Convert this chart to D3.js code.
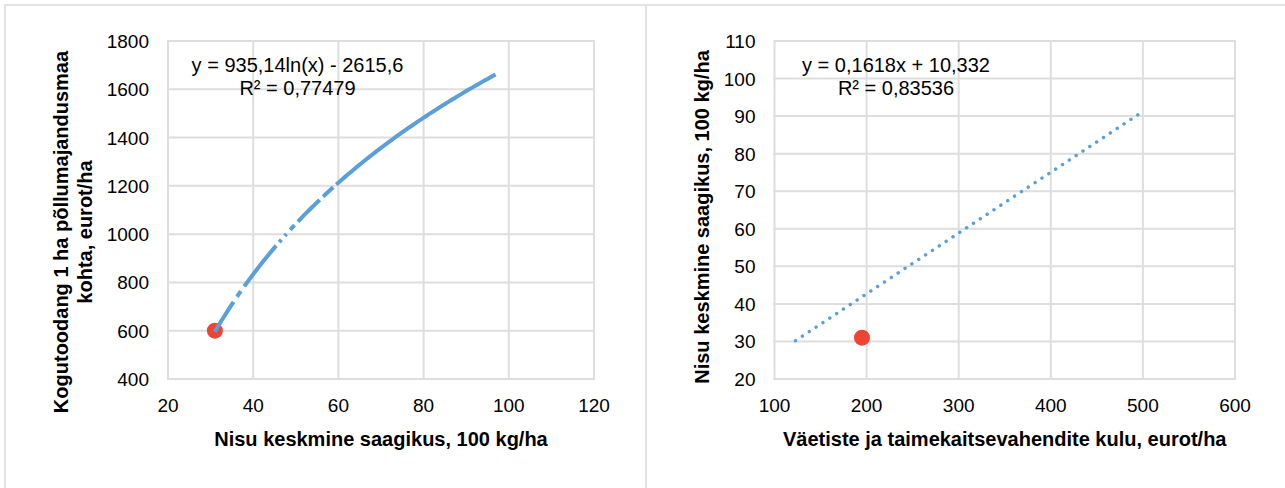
<!DOCTYPE html>
<html>
<head>
<meta charset="utf-8">
<script src="https://cdn.jsdelivr.net/npm/d3@7"></script>
<style>
  html, body { margin: 0; padding: 0; background: #fff; }
  svg { display: block; font-family: "Liberation Sans", Arial, sans-serif; }
</style>
</head>
<body>
<svg id="chart" width="1285" height="488"></svg>
<script>
// ---------- data ----------
// Left chart: yield (x) vs. gross output per ha (y)
const leftXTicks = [20, 40, 60, 80, 100, 120];
const leftYTicks = [400, 600, 800, 1000, 1200, 1400, 1600, 1800];
const leftPointX = [31];
const leftPointY = [600];
const leftTrendCoef = [935.14, -2615.6];            // y = a*ln(x) + b
const leftTrendSegments = [                          // visible stretches of the trend line (x ranges)
  [31, 35.4], [36.2, 37.1], [37.9, 45.4], [46.1, 46.6], [47.4, 47.8],
  [48.7, 49.7], [50.5, 55.6], [56.4, 58.8], [59.5, 96.9]
];
const leftEquation = ["y = 935,14ln(x) - 2615,6", "R² = 0,77479"];
const leftXTitle = "Nisu keskmine saagikus, 100 kg/ha";
const leftYTitle = ["Kogutoodang 1 ha põllumajandusmaa", "kohta, eurot/ha"];

// Right chart: fertiliser & plant protection cost (x) vs. yield (y)
const rightXTicks = [100, 200, 300, 400, 500, 600];
const rightYTicks = [20, 30, 40, 50, 60, 70, 80, 90, 100, 110];
const rightPointX = [195];
const rightPointY = [31];
const rightTrendCoef = [0.1618, 10.332];             // y = a*x + b
const rightTrendRange = [122.8, 495.3];
const rightEquation = ["y = 0,1618x + 10,332", "R² = 0,83536"];
const rightXTitle = "Väetiste ja taimekaitsevahendite kulu, eurot/ha";
const rightYTitle = ["Nisu keskmine saagikus, 100 kg/ha"];

// ---------- styles ----------
const gridColor = "#dedede";
const lineBlue = "#5b9fd8";
const dotRed = "#ef4432";
const borderColor = "#e3e3e3";

const svg = d3.select("#chart");

// panel borders
svg.append("line").attr("x1", 4).attr("x2", 1285).attr("y1", 5).attr("y2", 5)
  .attr("stroke", borderColor).attr("stroke-width", 2);
svg.append("line").attr("x1", 5).attr("x2", 5).attr("y1", 4).attr("y2", 488)
  .attr("stroke", borderColor).attr("stroke-width", 2);
svg.append("line").attr("x1", 646).attr("x2", 646).attr("y1", 4).attr("y2", 488)
  .attr("stroke", borderColor).attr("stroke-width", 2);

function drawPanel(cfg) {
  const x = d3.scaleLinear().domain(cfg.xDomain).range([cfg.left, cfg.right]);
  const y = d3.scaleLinear().domain(cfg.yDomain).range([cfg.bottom, cfg.top]);
  const g = svg.append("g");

  // gridlines (vertical)
  g.append("g").selectAll("line").data(cfg.xTicks).join("line")
    .attr("x1", d => x(d)).attr("x2", d => x(d))
    .attr("y1", cfg.top).attr("y2", cfg.bottom)
    .attr("stroke", gridColor).attr("stroke-width", 2);
  // gridlines (horizontal)
  g.append("g").selectAll("line").data(cfg.yTicks).join("line")
    .attr("x1", cfg.left - 1).attr("x2", cfg.right + 1)
    .attr("y1", d => y(d)).attr("y2", d => y(d))
    .attr("stroke", gridColor).attr("stroke-width", 2);

  // tick labels
  g.append("g").selectAll("text").data(cfg.xTicks).join("text")
    .attr("x", d => x(d)).attr("y", 412)
    .attr("text-anchor", "middle").attr("font-size", 19).attr("fill", "#000")
    .text(d => d);
  g.append("g").selectAll("text").data(cfg.yTicks).join("text")
    .attr("x", cfg.left - 19).attr("y", d => y(d) + 7)
    .attr("text-anchor", "end").attr("font-size", 19).attr("fill", "#000")
    .text(d => d);

  // axis titles
  g.append("text")
    .attr("x", (cfg.left + cfg.right) / 2).attr("y", 446)
    .attr("text-anchor", "middle").attr("font-size", 20).attr("font-weight", "bold")
    .text(cfg.xTitle);
  cfg.yTitle.forEach((t, i) => {
    g.append("text")
      .attr("transform", `translate(${cfg.yTitleX + i * 24},${cfg.yTitleCY}) rotate(-90)`)
      .attr("text-anchor", "middle").attr("font-size", 20).attr("font-weight", "bold")
      .text(t);
  });

  // trend line (under the point)
  if (cfg.trendUnder) cfg.trendUnder(g, x, y);

  // highlighted point
  g.append("g").selectAll("circle").data(cfg.pointX.map((v, i) => [v, cfg.pointY[i]])).join("circle")
    .attr("cx", d => x(d[0])).attr("cy", d => y(d[1])).attr("r", 8)
    .attr("fill", dotRed);

  // trend line (over the point)
  if (cfg.trendOver) cfg.trendOver(g, x, y);

  // equation label
  cfg.equation.forEach((t, i) => {
    g.append("text")
      .attr("x", cfg.eqX).attr("y", 72 + i * 22.5)
      .attr("text-anchor", "middle").attr("font-size", 20).attr("fill", "#000")
      .text(t);
  });
}

// Left panel
drawPanel({
  xDomain: [20, 120], yDomain: [400, 1800],
  left: 168, right: 594, top: 41, bottom: 379,
  xTicks: leftXTicks, yTicks: leftYTicks,
  xTitle: leftXTitle, yTitle: leftYTitle, yTitleX: 68, yTitleCY: 232,
  pointX: leftPointX, pointY: leftPointY,
  equation: leftEquation, eqX: 297.5,
  trendOver: (g, x, y) => {
    const [a, b] = leftTrendCoef;
    const line = d3.line().x(d => x(d)).y(d => y(a * Math.log(d) + b));
    leftTrendSegments.forEach(([x0, x1]) => {
      const n = Math.max(2, Math.ceil((x1 - x0) * 2));
      const xs = d3.range(n + 1).map(i => x0 + (x1 - x0) * i / n);
      g.append("path").attr("d", line(xs))
        .attr("fill", "none").attr("stroke", lineBlue).attr("stroke-width", 4)
        .attr("stroke-linecap", "butt");
    });
  }
});

// Right panel
drawPanel({
  xDomain: [100, 600], yDomain: [20, 110],
  left: 774.5, right: 1235, top: 41, bottom: 379,
  xTicks: rightXTicks, yTicks: rightYTicks,
  xTitle: rightXTitle, yTitle: rightYTitle, yTitleX: 709, yTitleCY: 217,
  pointX: rightPointX, pointY: rightPointY,
  equation: rightEquation, eqX: 896,
  trendUnder: (g, x, y) => {
    const [a, b] = rightTrendCoef;
    const line = d3.line().x(d => x(d)).y(d => y(a * d + b));
    g.append("path").attr("d", line(rightTrendRange))
      .attr("fill", "none").attr("stroke", lineBlue).attr("stroke-width", 3.4)
      .attr("stroke-linecap", "round").attr("stroke-dasharray", "0.1 8.1");
  }
});
</script>
</body>
</html>
